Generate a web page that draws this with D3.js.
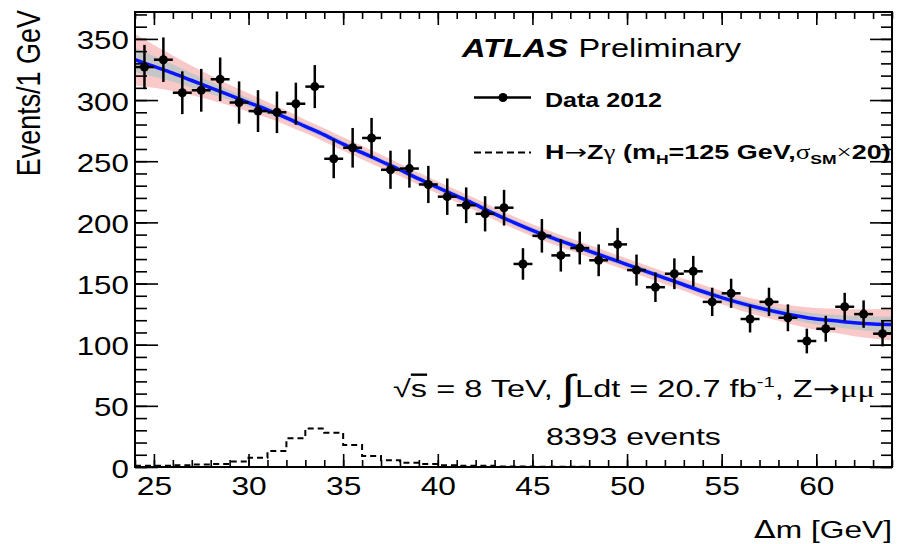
<!DOCTYPE html>
<html>
<head>
<meta charset="utf-8">
<script src="https://cdn.jsdelivr.net/npm/d3@7/dist/d3.min.js"></script>
<style>
body { margin: 0; background: #fff; }
svg { display: block; font-family: "Liberation Sans", Arial, Helvetica, sans-serif; }
</style>
</head>
<body>
<div id="viz"></div>
<script>

// data histogram: bin centres [GeV], counts and their errors
var binCentres = [24.5, 25.5, 26.5, 27.5, 28.5, 29.5, 30.5, 31.5, 32.5, 33.5,
	34.5, 35.5, 36.5, 37.5, 38.5, 39.5, 40.5, 41.5, 42.5, 43.5,
	44.5, 45.5, 46.5, 47.5, 48.5, 49.5, 50.5, 51.5, 52.5, 53.5,
	54.5, 55.5, 56.5, 57.5, 58.5, 59.5, 60.5, 61.5, 62.5, 63.5];
var dataCounts = [327, 333, 306, 308, 317, 298, 291, 290, 297, 311,
	252, 261, 269, 243, 244, 231, 221, 214, 207, 212,
	166, 189, 173, 179, 169, 182, 161, 147, 158, 160,
	135, 142, 121, 135, 122, 103, 113, 131, 125, 109];
var dataErrors = [18.1, 18.2, 17.5, 17.5, 17.8, 17.3, 17.1, 17.0, 17.2, 17.6,
	15.9, 16.2, 16.4, 15.6, 15.6, 15.2, 14.9, 14.6, 14.4, 14.6,
	12.9, 13.7, 13.2, 13.4, 13.0, 13.5, 12.7, 12.1, 12.6, 12.6,
	11.6, 11.9, 11.0, 11.6, 11.0, 10.1, 10.6, 11.4, 11.2, 10.4];

// signal H->Zgamma (x20): low edges of the 1 GeV bins and contents
var signalEdges = [24, 25, 26, 27, 28, 29, 30, 31, 32, 33,
	34, 35, 36, 37, 38, 39, 40, 41, 42, 43,
	44, 45, 46, 47, 48, 49, 50, 51, 52, 53,
	54, 55, 56, 57, 58, 59, 60, 61, 62, 63, 64];
var signalCounts = [1, 1, 1.5, 2, 2.5, 4.5, 7.5, 13, 23.5, 31.5,
	28, 18, 9, 5.5, 3.5, 2.5, 1.5, 1, 1, 0.5,
	0.5, 0.3, 0.2, 0.2, 0, 0, 0, 0, 0, 0,
	0, 0, 0, 0, 0, 0, 0, 0, 0, 0];

// background fit, every GeV, with its two uncertainty bands
var fitX = [24, 25, 26, 27, 28, 29, 30, 31, 32, 33, 34, 35, 36, 37, 38, 39, 40,
	41, 42, 43, 44, 45, 46, 47, 48, 49, 50, 51, 52, 53, 54, 55, 56, 57, 58, 59, 60,
	61, 62, 63, 64];
var fitValues = [333, 327.5, 322, 316, 310, 304, 298, 292, 285.5, 278.5, 271.5, 264, 257, 250, 243, 235.5, 228.5,
	221.5, 214.5, 207, 200, 193.5, 187.5, 182, 176.5, 171, 165.5, 160, 154.5, 149, 143.5, 138.5, 134, 130, 126.5, 123.5, 121,
	119.5, 118, 117, 116.5];
var fitBandInner = [10, 8.5, 7, 6, 5, 4, 3.5, 3, 2.5, 2.5, 2.5, 2.5, 2.5, 2.5, 2.5, 2.5, 2.5,
	2.5, 2.5, 2.5, 2.5, 2.5, 2.5, 2.5, 2.5, 2.5, 2.5, 2.5, 2.5, 2.5, 2.7, 2.8, 3, 3.2, 3.5, 4, 4.5,
	5, 5.5, 6, 6.5];
var fitBandOuter = [21, 17.5, 14.5, 12, 10, 8.5, 7.5, 6.5, 6, 5.5, 5.5, 5.5, 5.5, 5.5, 5, 5, 5,
	5, 5, 5, 5, 5, 5, 5, 5, 5, 5, 5, 5, 5, 5.5, 5.5, 6, 6.5, 7, 8, 9,
	10, 11, 12, 13];

// tick labels
var xTickValues = [25, 30, 35, 40, 45, 50, 55, 60];
var yTickValues = [0, 50, 100, 150, 200, 250, 300, 350];

var width = 899, height = 544;
var frame = {left: 135, right: 892, top: 12, bottom: 467};
var greekFont = "'Liberation Serif', 'DejaVu Serif', serif";
var arrowFont = "'DejaVu Sans', sans-serif";

var x = d3.scaleLinear().domain([24, 64]).range([frame.left, frame.right]);
var y = d3.scaleLinear().domain([0, 372]).range([frame.bottom, frame.top]);

var svg = d3.select("#viz")
	.append("svg")
	.attr("width", width)
	.attr("height", height);

svg.append("clipPath")
	.attr("id", "plotClip")
	.append("rect")
	.attr("x", frame.left)
	.attr("y", frame.top)
	.attr("width", frame.right - frame.left)
	.attr("height", frame.bottom - frame.top);

// adds a text whose width is stretched to the given target width (ROOT fonts are wide)
function addFittedText(parent, px, py, targetWidth, anchor, build, rotate, thick){

	var g = parent.append("g");
	var t = g.append("text").attr("text-anchor", anchor);
	build(t);
	var w = t.node().getBBox().width;
	var s = targetWidth / w;
	g.attr("transform", "translate(" + px + "," + py + ")" + (rotate ? " rotate(" + rotate + ")" : "") + " scale(" + s + "," + (thick || 1) + ")");
	return t;
}

function drawFit(){

	var plot = svg.append("g").attr("clip-path", "url(#plotClip)");
	var pts = fitX.map(function(d, i){ return {x: d, v: fitValues[i], e1: fitBandInner[i], e2: fitBandOuter[i]}; });

	plot.append("path")
		.datum(pts)
		.attr("fill", "#f9c9c9")
		.attr("d", d3.area().curve(d3.curveMonotoneX)
			.x(function(d){ return x(d.x); })
			.y0(function(d){ return y(d.v - d.e2); })
			.y1(function(d){ return y(d.v + d.e2); }));

	plot.append("path")
		.datum(pts)
		.attr("fill", "#c6c6c6")
		.attr("d", d3.area().curve(d3.curveMonotoneX)
			.x(function(d){ return x(d.x); })
			.y0(function(d){ return y(d.v - d.e1); })
			.y1(function(d){ return y(d.v + d.e1); }));

	plot.append("path")
		.datum(pts)
		.attr("fill", "none")
		.attr("stroke", "#0a14ff")
		.attr("stroke-width", 3.5)
		.attr("d", d3.line().curve(d3.curveMonotoneX)
			.x(function(d){ return x(d.x); })
			.y(function(d){ return y(d.v); }));
}

function drawSignal(){

	var pts = signalEdges.map(function(d, i){
		return {x: d, v: i < signalCounts.length ? signalCounts[i] : signalCounts[signalCounts.length - 1]};
	});

	svg.append("path")
		.datum(pts)
		.attr("clip-path", "url(#plotClip)")
		.attr("fill", "none")
		.attr("stroke", "#000")
		.attr("stroke-width", 2)
		.attr("stroke-dasharray", "6,4")
		.attr("d", d3.line().curve(d3.curveStepAfter)
			.x(function(d){ return x(d.x); })
			.y(function(d){ return y(d.v); }));
}

function drawData(){

	var pts = binCentres.map(function(d, i){ return {x: d, v: dataCounts[i], e: dataErrors[i]}; });
	var g = svg.append("g").attr("clip-path", "url(#plotClip)");

	var p = g.selectAll("g.pt")
		.data(pts)
		.enter()
		.append("g")
		.attr("class", "pt");

	p.append("line")
		.attr("x1", function(d){ return x(d.x); })
		.attr("x2", function(d){ return x(d.x); })
		.attr("y1", function(d){ return y(d.v - d.e); })
		.attr("y2", function(d){ return y(d.v + d.e); })
		.attr("stroke", "#000")
		.attr("stroke-width", 2.5);

	p.append("line")
		.attr("x1", function(d){ return x(d.x - 0.5); })
		.attr("x2", function(d){ return x(d.x + 0.5); })
		.attr("y1", function(d){ return y(d.v); })
		.attr("y2", function(d){ return y(d.v); })
		.attr("stroke", "#000")
		.attr("stroke-width", 2.5);

	p.append("circle")
		.attr("cx", function(d){ return x(d.x); })
		.attr("cy", function(d){ return y(d.v); })
		.attr("r", 4.5)
		.attr("fill", "#000");
}

function drawAxes(){

	var xMinor = d3.range(24, 64.01, 1);
	var yMinor = d3.range(0, 371, 10);

	// minor ticks on all four sides, pointing inwards
	svg.append("g").attr("transform", "translate(0," + frame.bottom + ")")
		.call(d3.axisBottom(x).tickValues(xMinor).tickSize(-7).tickFormat(""));
	svg.append("g").attr("transform", "translate(0," + frame.top + ")")
		.call(d3.axisTop(x).tickValues(xMinor).tickSize(-7).tickFormat(""));
	svg.append("g").attr("transform", "translate(" + frame.left + ",0)")
		.call(d3.axisLeft(y).tickValues(yMinor).tickSize(-12).tickFormat(""));
	svg.append("g").attr("transform", "translate(" + frame.right + ",0)")
		.call(d3.axisRight(y).tickValues(yMinor).tickSize(-11).tickFormat(""));

	// major ticks
	var xb = svg.append("g").attr("transform", "translate(0," + frame.bottom + ")")
		.call(d3.axisBottom(x).tickValues(xTickValues).tickSize(-13).tickPadding(10));
	svg.append("g").attr("transform", "translate(0," + frame.top + ")")
		.call(d3.axisTop(x).tickValues(xTickValues).tickSize(-13).tickFormat(""));
	var yl = svg.append("g").attr("transform", "translate(" + frame.left + ",0)")
		.call(d3.axisLeft(y).tickValues(yTickValues).tickSize(-23).tickPadding(5));
	svg.append("g").attr("transform", "translate(" + frame.right + ",0)")
		.call(d3.axisRight(y).tickValues(yTickValues).tickSize(-22).tickFormat(""));

	svg.selectAll(".domain").remove();
	svg.selectAll(".tick line").attr("stroke", "#000").attr("stroke-width", 1.6);

	xb.selectAll("text")
		.attr("font-family", "'Liberation Sans', Arial, sans-serif")
		.attr("font-size", 25)
		.attr("fill", "#000")
		.attr("transform", "scale(1.27,1)");
	yl.selectAll("text")
		.attr("font-family", "'Liberation Sans', Arial, sans-serif")
		.attr("font-size", 25)
		.attr("fill", "#000")
		.attr("dy", "0.4em")
		.attr("transform", "scale(1.25,1)");

	// frame
	svg.append("rect")
		.attr("x", frame.left)
		.attr("y", frame.top)
		.attr("width", frame.right - frame.left)
		.attr("height", frame.bottom - frame.top)
		.attr("fill", "none")
		.attr("stroke", "#000")
		.attr("stroke-width", 2);
}

function drawTexts(){

	addFittedText(svg, frame.right, 538, 138, "end", function(t){
		t.attr("font-size", 24);
		t.append("tspan").attr("font-family", arrowFont).text("\u0394");
		t.append("tspan").text("m [GeV]");
	});

	addFittedText(svg, 40, 10, 167, "end", function(t){
		t.attr("font-size", 26).text("Events/1 GeV");
	}, -90, 1.25);

	addFittedText(svg, 462, 57, 281, "start", function(t){
		t.attr("font-size", 25);
		t.append("tspan").attr("font-weight", "bold").attr("font-style", "italic").text("ATLAS");
		t.append("tspan").attr("dx", 8).text("Preliminary");
	});

	// legend
	svg.append("line")
		.attr("x1", 474).attr("x2", 531).attr("y1", 97.5).attr("y2", 97.5)
		.attr("stroke", "#000").attr("stroke-width", 2.5);
	svg.append("circle")
		.attr("cx", 503).attr("cy", 97.5).attr("r", 4.5).attr("fill", "#000");
	addFittedText(svg, 545, 107, 117, "start", function(t){
		t.attr("font-size", 21).attr("font-weight", "bold").text("Data 2012");
	});

	svg.append("line")
		.attr("x1", 474).attr("x2", 531).attr("y1", 152.5).attr("y2", 152.5)
		.attr("stroke", "#000").attr("stroke-width", 2)
		.attr("stroke-dasharray", "7,4");
	addFittedText(svg, 545, 159, 346, "start", function(t){
		t.attr("font-size", 20).attr("font-weight", "bold");
		t.append("tspan").text("H");
		t.append("tspan").attr("font-family", arrowFont).attr("font-weight", "normal").text("\u2192");
		t.append("tspan").text("Z");
		t.append("tspan").attr("font-family", greekFont).attr("font-weight", "normal").text("\u03b3");
		t.append("tspan").text(" (m");
		t.append("tspan").attr("font-size", 13).attr("dy", 5).text("H");
		t.append("tspan").attr("dy", -5).text("=125 GeV,");
		t.append("tspan").attr("font-family", greekFont).attr("font-weight", "normal").text("\u03c3");
		t.append("tspan").attr("font-size", 13).attr("dy", 5).text("SM");
		t.append("tspan").attr("dy", -5).attr("font-family", greekFont).attr("font-weight", "normal").text("\u00d7");
		t.append("tspan").text("20)");
	});

	addFittedText(svg, 393, 397, 482, "start", function(t){
		t.attr("font-size", 24);
		t.append("tspan").text("\u221a");
		t.append("tspan").attr("text-decoration", "overline").text("s");
		t.append("tspan").text(" = 8 TeV, ");
		t.append("tspan").attr("font-size", 36).attr("dy", 3).text("\u222b");
		t.append("tspan").attr("dy", -3).text("Ldt = 20.7 fb");
		t.append("tspan").attr("font-size", 15).attr("dy", -10).text("-1");
		t.append("tspan").attr("dy", 10).text(", Z");
		t.append("tspan").attr("font-family", arrowFont).text("\u2192");
		t.append("tspan").attr("font-family", greekFont).text("\u03bc\u03bc");
	});

	addFittedText(svg, 546, 445, 175, "start", function(t){
		t.attr("font-size", 24).text("8393 events");
	});
}

drawFit();
drawSignal();
drawData();
drawAxes();
drawTexts();

</script>
</body>
</html>
